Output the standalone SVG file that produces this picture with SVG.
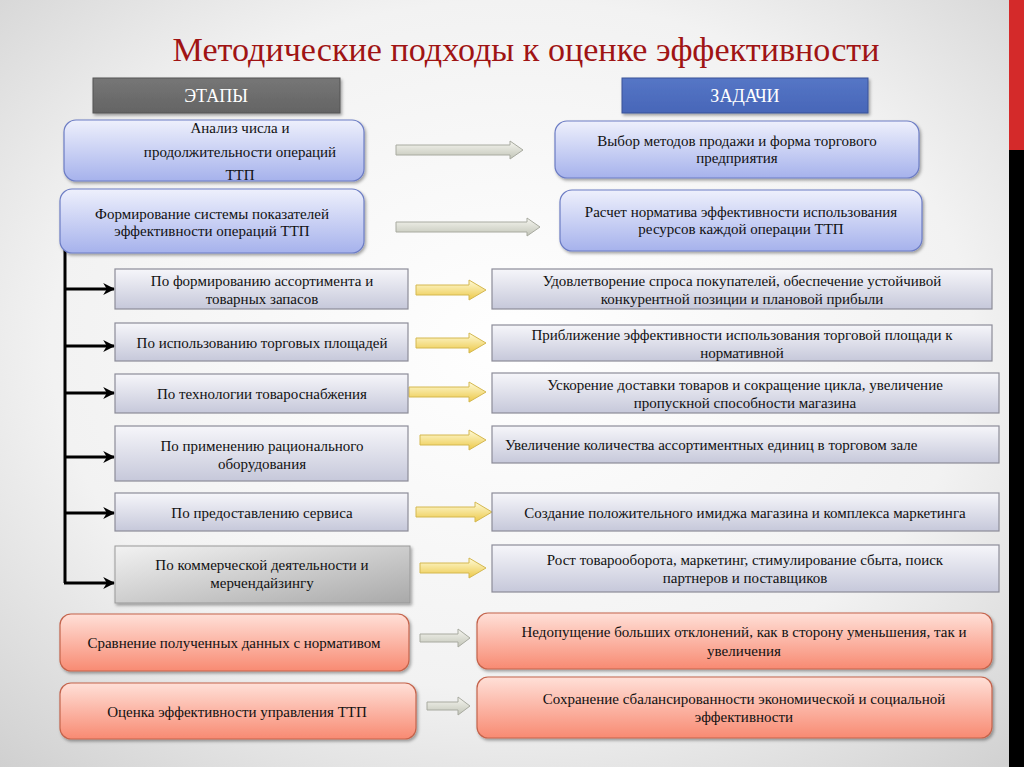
<svg xmlns="http://www.w3.org/2000/svg" width="1024" height="767" viewBox="0 0 1024 767">
<defs>
<radialGradient id="bg" cx="0.5" cy="0.45" r="0.75">
<stop offset="0" stop-color="#ffffff"/>
<stop offset="0.6" stop-color="#f2f2f2"/>
<stop offset="1" stop-color="#cfcfcf"/>
</radialGradient>
<linearGradient id="gBlue" x1="0" y1="0" x2="0" y2="1">
<stop offset="0" stop-color="#eef0fc"/>
<stop offset="1" stop-color="#a6b2ec"/>
</linearGradient>
<linearGradient id="gGray" x1="0" y1="0" x2="0" y2="1">
<stop offset="0" stop-color="#f6f6fa"/>
<stop offset="1" stop-color="#c6c8da"/>
</linearGradient>
<linearGradient id="gDark" x1="0" y1="0" x2="1" y2="1">
<stop offset="0" stop-color="#f2f2f2"/>
<stop offset="1" stop-color="#a9a9a9"/>
</linearGradient>
<linearGradient id="gSalmon" x1="0" y1="0" x2="0" y2="1">
<stop offset="0" stop-color="#ffe0d8"/>
<stop offset="1" stop-color="#f88a72"/>
</linearGradient>
<linearGradient id="gArrowGray" x1="0" y1="0" x2="0" y2="1">
<stop offset="0" stop-color="#f6f6f0"/>
<stop offset="1" stop-color="#c2c5b8"/>
</linearGradient>
<linearGradient id="gArrowYellow" x1="0" y1="0" x2="0" y2="1">
<stop offset="0" stop-color="#fffbd8"/>
<stop offset="1" stop-color="#ecc848"/>
</linearGradient>
<linearGradient id="gHdrGray" x1="0" y1="0" x2="0" y2="1">
<stop offset="0" stop-color="#767676"/>
<stop offset="1" stop-color="#646464"/>
</linearGradient>
<linearGradient id="gHdrBlue" x1="0" y1="0" x2="0" y2="1">
<stop offset="0" stop-color="#5576c6"/>
<stop offset="1" stop-color="#4866b8"/>
</linearGradient>
<filter id="sh" x="-5%" y="-10%" width="110%" height="130%">
<feDropShadow dx="1.5" dy="2" stdDeviation="1.5" flood-color="#000" flood-opacity="0.35"/>
</filter>
<marker id="ah" viewBox="0 0 10 10" refX="9" refY="5" markerWidth="4" markerHeight="4" orient="auto" markerUnits="strokeWidth">
<path d="M0,0 L10,5 L0,10 L3,5 Z" fill="#000"/>
</marker>
<style>
text { font-family: 'Liberation Serif', 'DejaVu Serif', serif; fill: #111; font-size: 15px; text-anchor: middle; }
.title { font-size: 34px; fill: #a01414; }
.hdr { font-size: 18px; fill: #ffffff; }
.blue { fill: url(#gBlue); stroke: #6c7cc4; stroke-width: 1.2; }
.gray { fill: url(#gGray); stroke: #8c8c98; stroke-width: 1.2; }
.dark { fill: url(#gDark); stroke: #999; stroke-width: 1; }
.salmon { fill: url(#gSalmon); stroke: #c4644c; stroke-width: 1.2; }
.ag { fill: url(#gArrowGray); stroke: #a8aaa0; stroke-width: 1; }
.ay { fill: url(#gArrowYellow); stroke: #d4b850; stroke-width: 1; }
.bl { stroke: #000; stroke-width: 3; fill: none; }
</style>
</defs>

<rect x="0" y="0" width="1024" height="767" fill="url(#bg)"/>
<rect x="1009" y="0" width="15" height="150" fill="#d42a2a"/>
<rect x="1009" y="150" width="15" height="617" fill="#000"/>

<g font-family="Liberation Serif, DejaVu Serif, serif">
<text class="title" x="526" y="61" textLength="707" lengthAdjust="spacingAndGlyphs">Методические подходы к оценке эффективности</text>

<g id="hdr-etapy">
<rect x="93" y="78" width="247" height="35" fill="url(#gHdrGray)" stroke="#555" stroke-width="1" filter="url(#sh)"/>
<text class="hdr" x="216" y="102">ЭТАПЫ</text>
</g>
<g id="hdr-zadachi">
<rect x="622" y="78" width="246" height="35" fill="url(#gHdrBlue)" stroke="#3a5298" stroke-width="1" filter="url(#sh)"/>
<text class="hdr" x="745" y="102">ЗАДАЧИ</text>
</g>

<g id="connectors">
<path class="ag" d="M396,145 L510,145 L510,141 L523,150 L510,159 L510,155 L396,155 Z"/>
<path class="ag" d="M396,222 L527,222 L527,218 L540,227 L527,236 L527,232 L396,232 Z"/>
<line class="bl" x1="65" y1="250" x2="65" y2="583"/>
<line class="bl" x1="64" y1="289" x2="114" y2="289" marker-end="url(#ah)"/>
<line class="bl" x1="64" y1="346" x2="114" y2="346" marker-end="url(#ah)"/>
<line class="bl" x1="64" y1="393" x2="114" y2="393" marker-end="url(#ah)"/>
<line class="bl" x1="64" y1="457" x2="114" y2="457" marker-end="url(#ah)"/>
<line class="bl" x1="64" y1="513" x2="114" y2="513" marker-end="url(#ah)"/>
<line class="bl" x1="64" y1="583" x2="114" y2="583" marker-end="url(#ah)"/>
<path class="ay" d="M416,285 L469,285 L469,280 L486,290 L469,300 L469,295 L416,295 Z"/>
<path class="ay" d="M416,338 L469,338 L469,333 L486,343 L469,353 L469,348 L416,348 Z"/>
<path class="ay" d="M409,387 L469,387 L469,382 L486,392 L469,402 L469,397 L409,397 Z"/>
<path class="ay" d="M420,435 L469,435 L469,430 L486,440 L469,450 L469,445 L420,445 Z"/>
<path class="ay" d="M416,507 L475,507 L475,502 L492,512 L475,522 L475,517 L416,517 Z"/>
<path class="ay" d="M420,563 L469,563 L469,558 L486,568 L469,578 L469,573 L420,573 Z"/>
<path class="ag" d="M420,634 L458,634 L458,629 L470,638 L458,647 L458,642 L420,642 Z"/>
<path class="ag" d="M427,702 L458,702 L458,697 L470,706 L458,715 L458,710 L427,710 Z"/>
</g>

<g id="n-analiz">
<rect class="blue" x="64" y="120" width="300" height="61" rx="12" filter="url(#sh)"/>
<text x="240" y="133">Анализ числа и</text>
<text x="240" y="157">продолжительности операций</text>
<text x="240" y="180">ТТП</text>
</g>
<g id="n-vybor">
<rect class="blue" x="555" y="121" width="364" height="57" rx="12" filter="url(#sh)"/>
<text x="737" y="146">Выбор методов продажи и форма торгового</text>
<text x="737" y="163">предприятия</text>
</g>
<g id="n-formirovanie">
<rect class="blue" x="60" y="189" width="304" height="64" rx="12" filter="url(#sh)"/>
<text x="212" y="219">Формирование системы показателей</text>
<text x="212" y="236">эффективности операций ТТП</text>
</g>
<g id="n-raschet">
<rect class="blue" x="560" y="190" width="362" height="61" rx="12" filter="url(#sh)"/>
<text x="741" y="217">Расчет норматива эффективности использования</text>
<text x="741" y="234">ресурсов каждой операции ТТП</text>
</g>

<g id="n-l1">
<rect class="gray" x="115" y="269" width="293" height="40"/>
<text x="262" y="286">По формированию ассортимента и</text>
<text x="262" y="304">товарных запасов</text>
</g>
<g id="n-l2">
<rect class="gray" x="115" y="323" width="293" height="38"/>
<text x="262" y="348">По использованию торговых площадей</text>
</g>
<g id="n-l3">
<rect class="gray" x="115" y="374" width="293" height="39"/>
<text x="262" y="399">По технологии товароснабжения</text>
</g>
<g id="n-l4">
<rect class="gray" x="115" y="426" width="293" height="55"/>
<text x="262" y="451">По применению рационального</text>
<text x="262" y="469">оборудования</text>
</g>
<g id="n-l5">
<rect class="gray" x="115" y="493" width="293" height="38"/>
<text x="262" y="518">По предоставлению сервиса</text>
</g>
<g id="n-l6">
<rect class="dark" x="115" y="546" width="295" height="57" filter="url(#sh)"/>
<text x="262" y="570">По коммерческой деятельности и</text>
<text x="262" y="588">мерчендайзингу</text>
</g>

<g id="n-r1">
<rect class="gray" x="492" y="269" width="500" height="40"/>
<text x="742" y="286">Удовлетворение спроса покупателей, обеспечение устойчивой</text>
<text x="742" y="304">конкурентной позиции и плановой прибыли</text>
</g>
<g id="n-r2">
<rect class="gray" x="492" y="325" width="500" height="36"/>
<text x="742" y="340">Приближение эффективности использования торговой площади к</text>
<text x="742" y="358">нормативной</text>
</g>
<g id="n-r3">
<rect class="gray" x="492" y="373" width="507" height="40"/>
<text x="745" y="390">Ускорение доставки товаров и сокращение цикла, увеличение</text>
<text x="745" y="408">пропускной способности магазина</text>
</g>
<g id="n-r4">
<rect class="gray" x="492" y="426" width="507" height="37"/>
<text x="505" y="450" style="text-anchor:start">Увеличение количества ассортиментных единиц в торговом зале</text>
</g>
<g id="n-r5">
<rect class="gray" x="492" y="493" width="507" height="38"/>
<text x="745" y="518">Создание положительного имиджа магазина и комплекса маркетинга</text>
</g>
<g id="n-r6">
<rect class="gray" x="492" y="545" width="507" height="47"/>
<text x="745" y="565">Рост товарооборота, маркетинг, стимулирование сбыта, поиск</text>
<text x="745" y="583">партнеров и поставщиков</text>
</g>

<g id="n-sravnenie">
<rect class="salmon" x="60" y="614" width="349" height="57" rx="11" filter="url(#sh)"/>
<text x="234" y="648">Сравнение полученных данных с нормативом</text>
</g>
<g id="n-ocenka">
<rect class="salmon" x="60" y="683" width="356" height="56" rx="11" filter="url(#sh)"/>
<text x="237" y="717">Оценка эффективности управления ТТП</text>
</g>
<g id="n-nedopusch">
<rect class="salmon" x="477" y="613" width="515" height="56" rx="11" filter="url(#sh)"/>
<text x="744" y="637">Недопущение больших отклонений, как в сторону уменьшения, так и</text>
<text x="744" y="656">увеличения</text>
</g>
<g id="n-sohranenie">
<rect class="salmon" x="477" y="677" width="515" height="61" rx="11" filter="url(#sh)"/>
<text x="744" y="704">Сохранение сбалансированности экономической и социальной</text>
<text x="744" y="722">эффективности</text>
</g>
</g>
</svg>
